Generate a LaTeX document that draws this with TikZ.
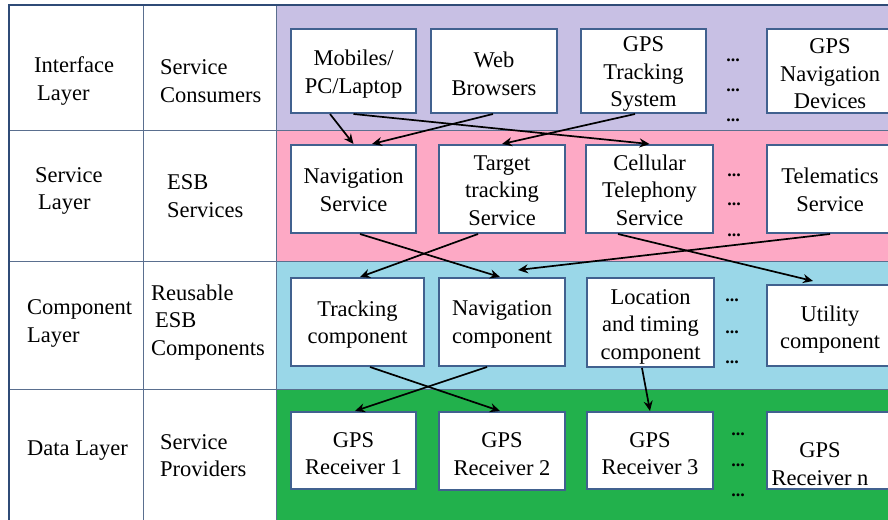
\documentclass[tikz,border=0pt]{standalone}
\usepackage{fontspec}
\setmainfont{Liberation Serif}
\usetikzlibrary{arrows.meta}
\definecolor{framecol}{HTML}{2F4B77}
\definecolor{gridcol}{HTML}{5A6F8F}
\definecolor{boxcol}{HTML}{41618F}
\definecolor{bandA}{HTML}{C8C0E4}
\definecolor{bandB}{HTML}{FDA9C5}
\definecolor{bandC}{HTML}{9AD7E8}
\definecolor{bandD}{HTML}{22B14C}
\tikzset{
  txt/.style={font=\fontsize{22.5}{27.5}\selectfont, inner sep=0pt},
  lbl/.style={txt, anchor=west, align=left},
  box/.style={draw=boxcol, line width=2pt, fill=white, inner sep=0pt},
  dots/.style={font=\fontsize{18}{18}\selectfont\bfseries, inner sep=0pt, anchor=base},
  arr/.style={line width=1.7pt, -{Stealth[length=10pt,width=9pt]}},
}
% \bx{name}{width}{height}{center}{text shift}{text}
\newcommand\bx[6]{%
  \node[box, minimum width=#2pt, minimum height=#3pt] (#1) at #4 {};
  \node[txt, align=center] (#1t) at ([yshift=-#5pt]#1.center) {#6};}
\begin{document}
\begin{tikzpicture}[x=1pt,y=-1pt]
\useasboundingbox (0,0) rectangle (888,519);
\clip (0,0) rectangle (888,519);
\fill[white] (0,0) rectangle (888,519);
% bands
\fill[bandA] (277,5) rectangle (890,130);
\fill[bandB] (277,130) rectangle (890,261);
\fill[bandC] (277,261) rectangle (890,389);
\fill[bandD] (277,389) rectangle (890,520);
% grid
\draw[gridcol, line width=1pt] (9,130) -- (890,130);
\draw[gridcol, line width=1pt] (9,261.5) -- (890,261.5);
\draw[gridcol, line width=1pt] (9,389.5) -- (890,389.5);
\draw[gridcol, line width=1pt] (143,5) -- (143,520);
\draw[gridcol, line width=1pt] (276.5,5) -- (276.5,520);
\draw[framecol, line width=2pt] (9,520) -- (9,5) -- (890,5);
% left labels
\node[lbl] (l1a) at (34,81) {Interface\\\hspace{3pt}Layer};
\node[lbl] (l1b) at (160,81) {Service\\Consumers};
\node[lbl] (l2a) at (35,191) {Service\\\hspace{3pt}Layer};
\node[lbl] (l2b) at (167,196) {ESB\\Services};
\node[lbl] (l3a) at (27,323.5) {Component\\Layer};
\node[lbl] (l3b) at (151,322.5) {Reusable\\\hspace{4pt}ESB\\Components};
\node[lbl] (l4a) at (27,451) {Data Layer};
\node[lbl] (l4b) at (160,455.5) {Service\\Providers};
% row 1
\bx{mob}{125}{84}{(353.5,71)}{3}{Mobiles/\\PC/Laptop}
\bx{web}{126}{84}{(494,71)}{3}{Web\\Browsers}
\bx{gpst}{125}{84}{(643.5,71)}{3}{GPS\\Tracking\\System}
\bx{gpsn}{126}{84}{(830,71)}{3}{GPS\\Navigation\\Devices}
% row 2
\bx{navs}{125}{88}{(353.5,189)}{1}{Navigation\\Service}
\bx{tts}{126}{88}{(502,189)}{1.5}{Target\\tracking\\Service}
\bx{cell}{127}{88}{(649.5,189)}{1}{Cellular\\Telephony\\Service}
\bx{tele}{126}{88}{(830,189)}{1}{Telematics\\Service}
% row 3
\bx{trc}{133}{88}{(357.5,322)}{2.5}{Tracking\\component}
\bx{navc}{126}{88}{(502,322)}{2.5}{Navigation\\component}
\bx{loc}{127}{89}{(650.5,322.5)}{4}{Location\\and timing\\component}
\bx{util}{126}{81}{(830,325.5)}{4}{Utility\\component}
% row 4
\bx{r1}{125}{77}{(353.5,450.5)}{3}{GPS\\Receiver 1}
\bx{r2}{126}{78}{(502,451)}{3}{GPS\\Receiver 2}
\bx{r3}{126}{77}{(650,450.5)}{3}{GPS\\Receiver 3}
\node[box, minimum width=126pt, minimum height=77pt] (rn) at (830,450.5) {};
\node[txt, align=center] (rntext) at (820,464) {GPS\\Receiver n};
% dots
\foreach \y [count=\i] in {61,91,121} \node[dots] (da\i) at (733,\y) {...};
\foreach \y [count=\i] in {176,205,236} \node[dots] (db\i) at (734,\y) {...};
\foreach \y [count=\i] in {301.5,333.5,363.5} \node[dots] (dc\i) at (732,\y) {...};
\foreach \y [count=\i] in {435.5,466.5,496.5} \node[dots] (dd\i) at (738,\y) {...};
% arrows
\draw[arr] ([xshift=-23.5pt]mob.south) -- (navs.north);
\draw[arr] ([xshift=-1pt]web.south) -- ([xshift=18.5pt]navs.north);
\draw[arr] (mob.south) -- (cell.north);
\draw[arr] ([xshift=-8.5pt]gpst.south) -- (tts.north);
\draw[arr] ([xshift=6.5pt]navs.south) -- ([xshift=-2pt]navc.north);
\draw[arr] ([xshift=-24pt]tts.south) -- ([xshift=2.5pt]trc.north);
\draw[arr] (tele.south) -- ([xshift=16pt,yshift=7pt]navc.north);
\draw[arr] ([xshift=-31.5pt]cell.south) -- ([xshift=-17pt,yshift=3pt]util.north);
\draw[arr] ([xshift=12.5pt]trc.south) -- ([xshift=-2pt]r2.north);
\draw[arr] ([xshift=-15pt]navc.south) -- ([xshift=1.5pt]r1.north);
\draw[arr] ([xshift=-8.5pt]loc.south) -- (r3.north);
\end{tikzpicture}
\end{document}
